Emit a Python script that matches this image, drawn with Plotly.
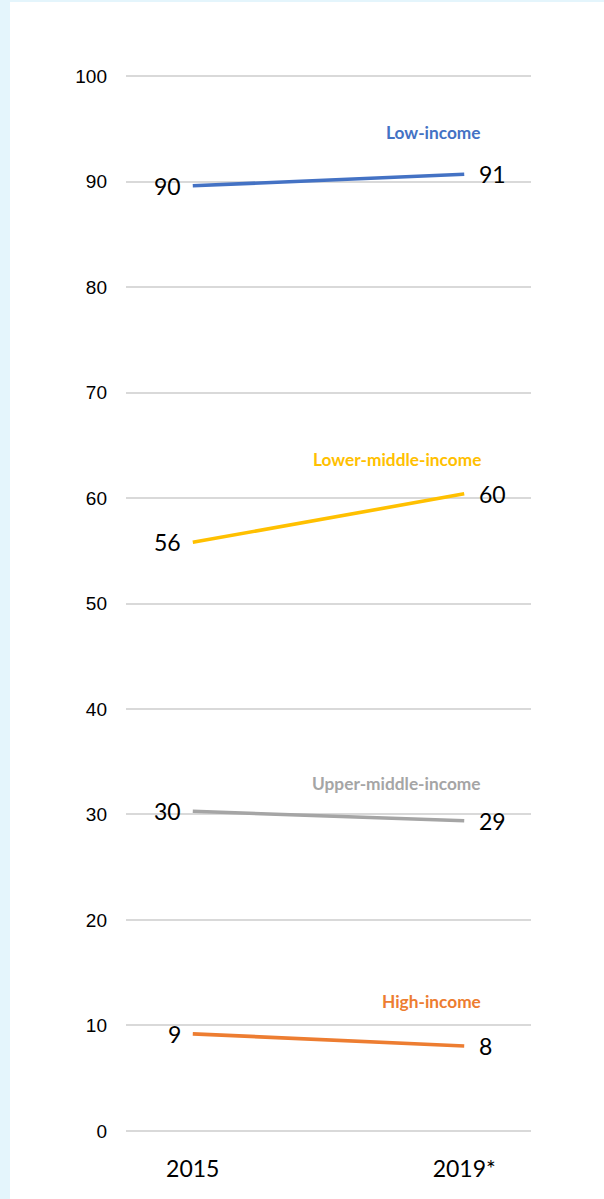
import plotly.graph_objects as go

# ---- data ----
categories = ["2015", "2019*"]
series_names = ["Low-income", "Lower-middle-income", "Upper-middle-income", "High-income"]
low_income = [89.6, 90.7]
lower_middle_income = [55.8, 60.4]
upper_middle_income = [30.3, 29.4]
high_income = [9.2, 8.05]
y_ticks = [0, 10, 20, 30, 40, 50, 60, 70, 80, 90, 100]

# ---- styles ----
colors = ["#4472C4", "#FFC000", "#A5A5A5", "#ED7D31"]
name_label_shift = [42, 34, 37, 44]   # px above the 2019 point
values = [low_income, lower_middle_income, upper_middle_income, high_income]

fig = go.Figure()
annotations = []
for name, vals, col, shift in zip(series_names, values, colors, name_label_shift):
    fig.add_trace(go.Scatter(
        x=[0, 1], y=vals, mode="lines", name=name,
        line=dict(color=col, width=3.6), showlegend=False, hoverinfo="skip"))
    # data labels
    annotations.append(dict(x=0, y=vals[0], xref="x", yref="y", text=str(round(vals[0])),
                            showarrow=False, xanchor="right", yanchor="middle", xshift=-10,
                            font=dict(family="Lato", size=23, color="#000000")))
    annotations.append(dict(x=1, y=vals[1], xref="x", yref="y", text=str(round(vals[1])),
                            showarrow=False, xanchor="left", yanchor="middle", xshift=13,
                            font=dict(family="Lato", size=23, color="#000000")))
    # series name label
    annotations.append(dict(x=1, y=vals[1], xref="x", yref="y", text="<b>%s</b>" % name,
                            showarrow=False, xanchor="right", yanchor="middle",
                            xshift=19, yshift=shift,
                            font=dict(family="Lato", size=17.3, color=col)))

# page / plot geometry
W, H = 604, 1199
L, R, T, B = 126, 73, 74, 66
pw, ph = W - L - R, H - T - B


def px_x(q):
    return (q - L) / pw


def px_y(p):
    return (T + ph - p) / ph


# white panel over light-blue page border (left ~10px, top ~2px)
shapes = [dict(type="rect", xref="paper", yref="paper", layer="below",
               x0=px_x(10), x1=px_x(W + 10), y0=px_y(H + 10), y1=px_y(2),
               fillcolor="white", line=dict(width=0))]

fig.update_layout(
    width=W, height=H,
    margin=dict(l=L, r=R, t=T, b=B, pad=0),
    paper_bgcolor="#E4F5FC",
    plot_bgcolor="white",
    shapes=shapes,
    annotations=annotations,
    xaxis=dict(range=[-0.246, 1.246], tickmode="array", tickvals=[0, 1], ticktext=categories,
               showgrid=False, zeroline=False, showline=False, ticks="",
               ticklabelstandoff=20,
               tickfont=dict(family="Lato", size=23, color="#000000")),
    yaxis=dict(range=[-0.2, 100.2], tickmode="array", tickvals=y_ticks,
               showgrid=True, gridcolor="#D9D9D9", gridwidth=1.5,
               zeroline=False, showline=False, ticks="", ticklabelstandoff=18,
               tickfont=dict(family="Liberation Sans", size=19, color="#000000")),
)

fig.write_html("out.html", config={"displayModeBar": False},
               post_script="document.body.style.margin='0';document.body.style.overflow='hidden';")
